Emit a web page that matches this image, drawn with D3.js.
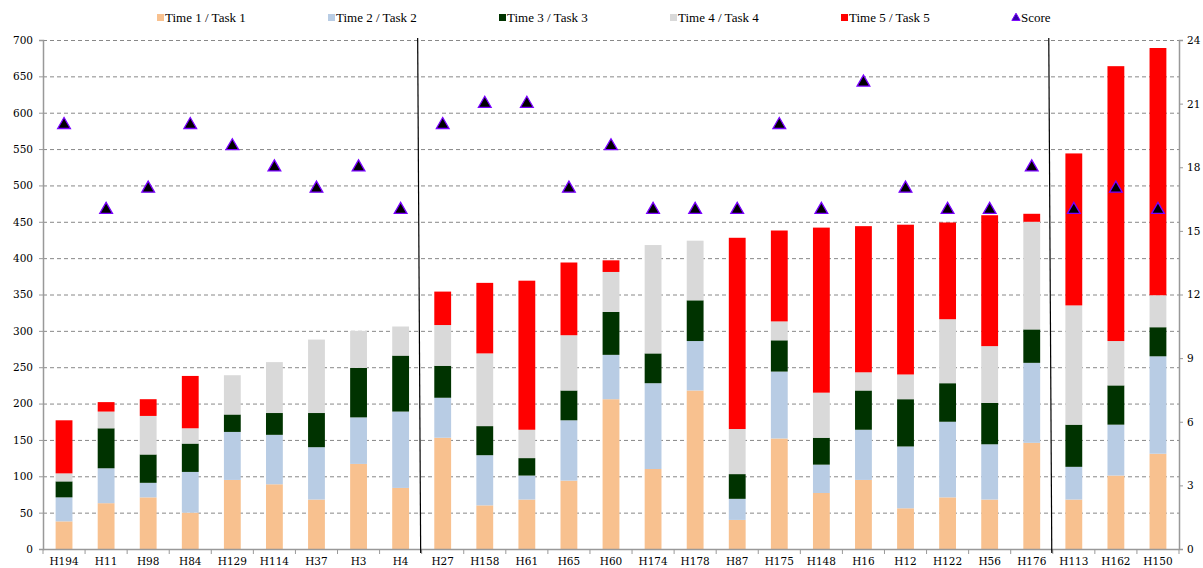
<!DOCTYPE html>
<html><head><meta charset="utf-8">
<script src="https://cdn.jsdelivr.net/npm/d3@7"></script>
<style>body{margin:0;background:#fff}svg{display:block}</style>
</head><body><svg id="c" width="1203" height="568"></svg>
<script>
const categories = ["H194","H11","H98","H84","H129","H114","H37","H3","H4","H27","H158","H61","H65","H60","H174","H178","H87","H175","H148","H16","H12","H122","H56","H176","H113","H162","H150"];
const time1 = [38,63,71,50,95,89,68,117,84,153,60,68,94,206,110,218,40,152,77,95,56,71,68,146,68,101,131];
const time2 = [33,48,20,56,66,68,72,64,105,55,69,33,83,61,118,68,29,92,39,69,85,104,76,110,45,70,134];
const time3 = [22,55,39,39,24,30,47,68,77,44,40,24,41,59,41,56,34,43,37,54,65,53,57,46,58,54,40];
const time4 = [11,23,53,21,54,70,101,51,40,56,100,39,76,55,149,82,62,26,62,25,34,88,78,148,164,61,44];
const time5 = [73,13,23,72,0,0,0,0,0,46,97,205,100,16,0,0,263,125,227,201,206,133,180,11,209,378,340];
const score = [20,16,17,20,19,18,17,18,16,20,21,21,17,19,16,16,16,20,16,22,17,16,16,18,16,17,16];
const seriesNames = ["Time 1 / Task 1","Time 2 / Task 2","Time 3 / Task 3","Time 4 / Task 4","Time 5 / Task 5"];
const seriesColors = ["#F8C18F","#B8CCE4","#003300","#D9D9D9","#FF0000"];
const leftTicks = [0,50,100,150,200,250,300,350,400,450,500,550,600,650,700];
const rightTicks = [0,3,6,9,12,15,18,21,24];
const groupBreaks = ["H27","H113"];

const svg = d3.select("#c");
const L = 43, R = 1179, T = 40, B = 549;
const x = d3.scaleBand().domain(categories).range([L, R]).paddingInner(0.6).paddingOuter(0.3);
const y = d3.scaleLinear().domain([0,700]).range([B, T]);
const y2 = d3.scaleLinear().domain([0,24]).range([B, T]);
const step = x.step();
const tickFont = "DejaVu Serif, Cambria, serif";

// gridlines
svg.append("g").selectAll("line").data(leftTicks.filter(d=>d>0)).join("line")
  .attr("x1", L).attr("x2", R).attr("y1", d=>y(d)+0.5).attr("y2", d=>y(d)+0.5)
  .attr("stroke", "#888").attr("stroke-dasharray", "4,3").attr("stroke-width", 1);

// stacked bars
const rows = categories.map((c,i)=>({cat:c, t1:time1[i], t2:time2[i], t3:time3[i], t4:time4[i], t5:time5[i]}));
const keys = ["t1","t2","t3","t4","t5"];
const stack = d3.stack().keys(keys)(rows);
svg.append("g").selectAll("g").data(stack).join("g")
  .attr("fill", (d,i)=>seriesColors[i])
  .selectAll("rect").data(d=>d.filter(s=>s[1]-s[0]>0)).join("rect")
  .attr("x", d=>x(d.data.cat)).attr("width", x.bandwidth())
  .attr("y", d=>y(d[1])).attr("height", d=>y(d[0])-y(d[1]));

// axes
const axL = svg.append("g").attr("transform", `translate(${L},0)`)
  .call(d3.axisLeft(y).tickValues(leftTicks).tickSize(4).tickPadding(6));
const axR = svg.append("g").attr("transform", `translate(${R},0)`)
  .call(d3.axisRight(y2).tickValues(rightTicks).tickSize(4).tickPadding(4));
const axB = svg.append("g").attr("transform", `translate(0,${B})`)
  .call(d3.axisBottom(x).tickSize(0).tickPadding(9));
[axL, axR, axB].forEach(a=>{
  a.selectAll("path").attr("stroke", "#999").attr("stroke-width", 1.5);
  a.selectAll("line").attr("stroke", "#999");
  a.selectAll("text").attr("fill", "#000").style("font-family", tickFont).style("font-size", "10.5px");
});
axB.select("path").attr("d", `M${L},0.5H${R}`);
// category boundary ticks
svg.append("g").selectAll("line").data(d3.range(categories.length+1)).join("line")
  .attr("x1", i=>L+i*step).attr("x2", i=>L+i*step).attr("y1", B).attr("y2", B+5)
  .attr("stroke", "#999");

// group separators
svg.append("g").selectAll("line").data(groupBreaks).join("line")
  .attr("x1", d=>x(d)-x.bandwidth()*0.75-4).attr("x2", d=>x(d)-x.bandwidth()*0.75-1)
  .attr("y1", T-2).attr("y2", B+4)
  .attr("stroke", "#000").attr("stroke-width", 1.2);

// score markers
svg.append("g").selectAll("path").data(score).join("path")
  .attr("d", d3.symbol().type(d3.symbolTriangle).size(70))
  .attr("transform", (d,i)=>`translate(${x(categories[i])+x.bandwidth()/2},${y2(d)})`)
  .attr("fill", "#000").attr("stroke", "#7A00FF").attr("stroke-width", 1.3);

// legend
const legend = svg.append("g").style("font-family", "Liberation Serif, Cambria, serif").style("font-size", "13px");
const lx0 = 157, ldx = 171, ly = 18;
seriesNames.forEach((n,i)=>{
  const g = legend.append("g").attr("transform", `translate(${lx0+i*ldx},${ly})`);
  g.append("rect").attr("x", 0).attr("y", -4).attr("width", 7).attr("height", 7).attr("fill", seriesColors[i]);
  g.append("text").attr("x", 8).attr("y", 4).text(n);
});
const gs = legend.append("g").attr("transform", `translate(${lx0+5*ldx},${ly})`);
gs.append("path").attr("d", d3.symbol().type(d3.symbolTriangle).size(30)).attr("transform","translate(4,0)")
  .attr("fill", "#3300AA").attr("stroke", "#7A00FF").attr("stroke-width", 1);
gs.append("text").attr("x", 9).attr("y", 4).text("Score");
</script></body></html>
